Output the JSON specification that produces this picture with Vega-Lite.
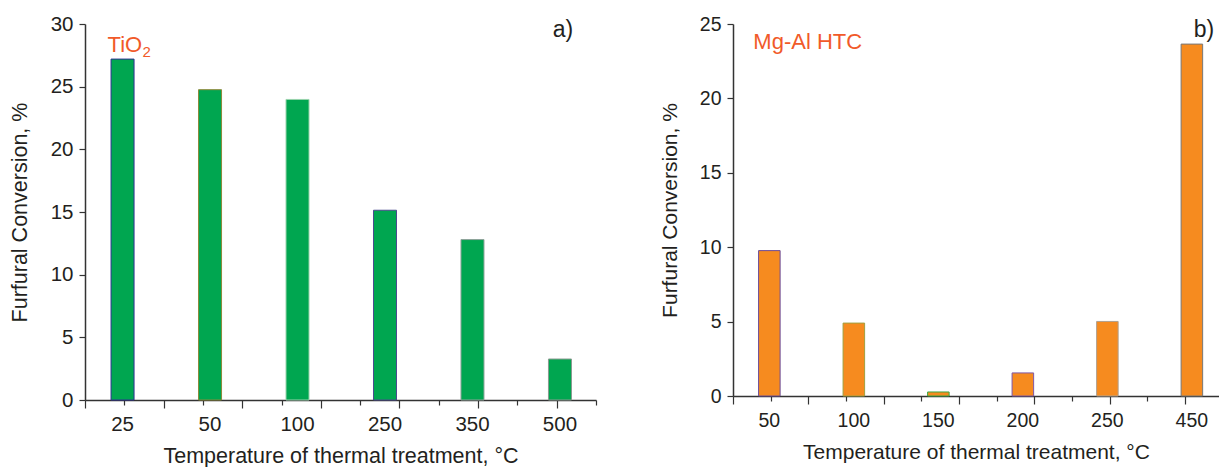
{
  "$schema": "https://vega.github.io/schema/vega-lite/v6.json",
  "padding": {"left": 9, "top": 14, "right": 0, "bottom": 0},
  "background": "white",
  "config": {
    "font": "Liberation Sans",
    "view": {"stroke": null},
    "axis": {"labelFont": "Liberation Sans", "titleFont": "Liberation Sans", "labelColor": "#231f20", "titleColor": "#231f20", "domainColor": "#333333", "tickColor": "#333333", "grid": false, "titleFontWeight": "normal"}
  },
  "datasets": {
    "tio2": [
      {"temp": "25", "conversion": 27.2},
      {"temp": "50", "conversion": 24.76},
      {"temp": "100", "conversion": 23.98},
      {"temp": "250", "conversion": 15.14},
      {"temp": "350", "conversion": 12.8},
      {"temp": "500", "conversion": 3.27}
    ],
    "mgal": [
      {"temp": "50", "conversion": 9.77},
      {"temp": "100", "conversion": 4.9},
      {"temp": "150", "conversion": 0.27},
      {"temp": "200", "conversion": 1.55},
      {"temp": "250", "conversion": 5.01},
      {"temp": "450", "conversion": 23.65}
    ]
  },
  "hconcat": [
    {
      "width": 511,
      "height": 376,
      "layer": [
        {
          "layer": [
            {
              "data": {"name": "tio2"},
              "mark": {"type": "bar", "fill": "#00a650", "strokeWidth": 1},
              "encoding": {
                "x": {"field": "temp", "type": "nominal", "sort": null,
                  "scale": {"domain": ["25", "50", "100", "250", "350", "500"], "paddingInner": 0.737, "paddingOuter": 0.289, "align": 0.515},
                  "axis": {"orient": "bottom", "title": "Temperature of thermal treatment, °C", "labelAngle": 0, "labelFontSize": 20.5, "titleFontSize": 21.5, "ticks": false, "tickSize": 0, "domain": false, "labelPadding": 14, "titlePadding": 11}},
                "y": {"field": "conversion", "type": "quantitative",
                  "scale": {"domain": [0, 30], "nice": false},
                  "axis": {"title": "Furfural Conversion, %", "titleFontSize": 21.5, "labelFontSize": 20.5, "values": [0, 2.5, 5, 7.5, 10, 12.5, 15, 17.5, 20, 22.5, 25, 27.5, 30],
                    "labelExpr": "datum.value % 5 === 0 ? datum.label : ''",
                    "tickSize": {"condition": {"test": "datum.value % 5 === 0", "value": 6}, "value": 3},
                    "labelPadding": 6, "titlePadding": 19, "domainWidth": 1.5, "tickWidth": 1.2}},
                "stroke": {"field": "temp", "type": "nominal", "legend": null,
                  "scale": {"domain": ["25", "50", "100", "250", "350", "500"], "range": ["#2e3192", "#8c8a3a", "#9ad3ad", "#4b4a8f", "#8fa39a", "#8a9a90"]}}
              }
            },
            {
              "data": {"values": [{"label": "TiO"}]},
              "mark": {"type": "text", "color": "#f15a29", "fontSize": 22, "align": "left", "baseline": "alphabetic", "dx": -15},
              "encoding": {
                "x": {"datum": "25", "type": "nominal"},
                "y": {"datum": 27.8, "type": "quantitative"},
                "text": {"field": "label"}
              }
            },
            {
              "data": {"values": [{"label": "2"}]},
              "mark": {"type": "text", "color": "#f15a29", "fontSize": 15, "align": "left", "baseline": "alphabetic", "dx": 20, "dy": 5},
              "encoding": {
                "x": {"datum": "25", "type": "nominal"},
                "y": {"datum": 27.8, "type": "quantitative"},
                "text": {"field": "label"}
              }
            },
            {
              "data": {"values": [{"label": "a)"}]},
              "mark": {"type": "text", "color": "#231f20", "fontSize": 23, "align": "center", "baseline": "middle", "dx": 3},
              "encoding": {
                "x": {"datum": "500", "type": "nominal"},
                "y": {"datum": 29.5, "type": "quantitative"},
                "text": {"field": "label"}
              }
            }
          ]
        },
        {
          "data": {"values": [{"label": "ticks"}]},
          "mark": {"type": "point", "opacity": 0},
          "encoding": {
            "x": {"datum": 0, "type": "quantitative",
              "scale": {"domain": [0, 6.5], "nice": false, "zero": false},
              "axis": {"orient": "bottom", "title": null, "labels": false, "values": [0, 0.5, 1, 1.5, 2, 2.5, 3, 3.5, 4, 4.5, 5, 5.5, 6, 6.5],
                "tickSize": {"condition": {"test": "datum.value % 1 === 0", "value": 8}, "value": 5},
                "domainWidth": 1.5, "tickWidth": 1.2}}
          }
        }
      ],
      "resolve": {"scale": {"x": "independent"}, "axis": {"x": "independent"}}
    },
    {
      "width": 486,
      "height": 372,
      "layer": [
        {
          "layer": [
            {
              "data": {"name": "mgal"},
              "mark": {"type": "bar", "fill": "#f68b1f", "strokeWidth": 1},
              "encoding": {
                "x": {"field": "temp", "type": "nominal", "sort": null,
                  "scale": {"domain": ["50", "100", "150", "200", "250", "450"], "paddingInner": 0.745, "paddingOuter": 0.248, "align": 0.61},
                  "axis": {"orient": "bottom", "title": "Temperature of thermal treatment, °C", "labelAngle": 0, "labelFontSize": 19.5, "titleFontSize": 21, "ticks": false, "tickSize": 0, "domain": false, "labelPadding": 15, "titlePadding": 12}},
                "y": {"field": "conversion", "type": "quantitative",
                  "scale": {"domain": [0, 25], "nice": false},
                  "axis": {"title": "Furfural Conversion, %", "titleFontSize": 21, "labelFontSize": 19.5, "values": [0, 2.5, 5, 7.5, 10, 12.5, 15, 17.5, 20, 22.5, 25],
                    "labelExpr": "datum.value % 5 === 0 ? datum.label : ''",
                    "tickSize": {"condition": {"test": "datum.value % 5 === 0", "value": 6}, "value": 3},
                    "labelPadding": 6, "titlePadding": 19, "domainWidth": 1.5, "tickWidth": 1.2}},
                "stroke": {"field": "temp", "type": "nominal", "legend": null,
                  "scale": {"domain": ["50", "100", "150", "200", "250", "450"], "range": ["#6b4c9a", "#a0a040", "#3aa843", "#7e57a8", "#b0a090", "#777777"]}}
              }
            },
            {
              "data": {"values": [{"label": "Mg-Al HTC"}]},
              "mark": {"type": "text", "color": "#f15a29", "fontSize": 22, "align": "left", "baseline": "middle", "dx": -16},
              "encoding": {
                "x": {"datum": "50", "type": "nominal"},
                "y": {"datum": 23.8, "type": "quantitative"},
                "text": {"field": "label"}
              }
            },
            {
              "data": {"values": [{"label": "b)"}]},
              "mark": {"type": "text", "color": "#231f20", "fontSize": 23, "align": "center", "baseline": "middle", "dx": 12},
              "encoding": {
                "x": {"datum": "450", "type": "nominal"},
                "y": {"datum": 24.6, "type": "quantitative"},
                "text": {"field": "label"}
              }
            }
          ]
        },
        {
          "data": {"values": [{"label": "ticks"}]},
          "mark": {"type": "point", "opacity": 0},
          "encoding": {
            "x": {"datum": 0, "type": "quantitative",
              "scale": {"domain": [0, 6.45], "nice": false, "zero": false},
              "axis": {"orient": "bottom", "title": null, "labels": false, "values": [0, 0.5, 1, 1.5, 2, 2.5, 3, 3.5, 4, 4.5, 5, 5.5, 6],
                "tickSize": {"condition": {"test": "datum.value % 1 === 0", "value": 8}, "value": 5},
                "domainWidth": 1.5, "tickWidth": 1.2}}
          }
        }
      ],
      "resolve": {"scale": {"x": "independent"}, "axis": {"x": "independent"}}
    }
  ],
  "resolve": {"scale": {"stroke": "independent"}},
  "spacing": 62
}
